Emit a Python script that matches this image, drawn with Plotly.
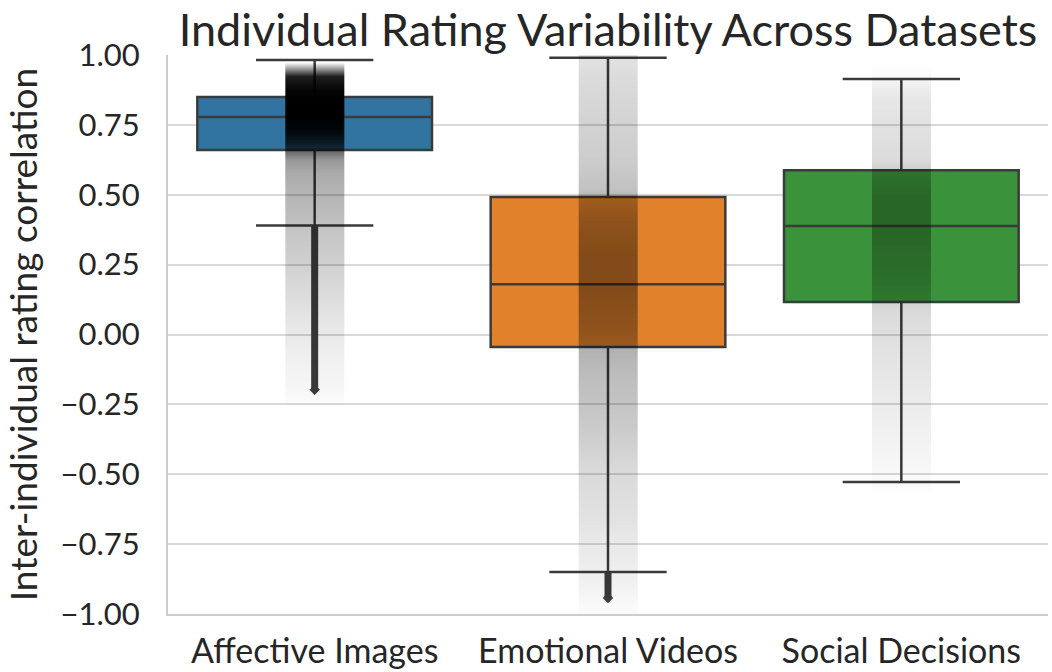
import plotly.graph_objects as go

# Summary statistics per dataset
categories = ["Affective Images", "Emotional Videos", "Social Decisions"]
box_colors = ["#3274A1", "#E1812C", "#3A923A"]
q1 = [0.66, -0.045, 0.116]
median = [0.778, 0.18, 0.388]
q3 = [0.85, 0.492, 0.588]
whisker_low = [0.39, -0.85, -0.528]
whisker_high = [0.982, 0.99, 0.914]
flier_min = [-0.21, -0.955, None]

# Density of individual correlations, 0.05-wide bins from -1 to 1 (bottom to top)
bin_edges = [round(-1 + 0.05 * i, 3) for i in range(41)]
density_affective = [
    0, 0, 0, 0, 0, 0, 0, 0, 0, 0, 0, 0, 0, 0, 0,
    0.02, 0.04, 0.05, 0.06, 0.08, 0.09, 0.11, 0.13, 0.15, 0.17,
    0.19, 0.21, 0.23, 0.26, 0.28, 0.30, 0.33, 0.40, 0.70, 0.93,
    1.0, 1.0, 0.98, 0.88, 0.0,
]
density_videos = [
    0.02, 0.04, 0.06, 0.07, 0.08, 0.09, 0.11, 0.12, 0.13, 0.14,
    0.15, 0.17, 0.19, 0.21, 0.22, 0.24, 0.25, 0.27, 0.29, 0.32,
    0.36, 0.38, 0.40, 0.42, 0.42, 0.42, 0.40, 0.38, 0.35, 0.30,
    0.24, 0.22, 0.20, 0.19, 0.18, 0.17, 0.16, 0.15, 0.14, 0.12,
]
density_social = [
    0, 0, 0, 0, 0, 0, 0, 0, 0,
    0.02, 0.03, 0.04, 0.05, 0.06, 0.07, 0.08, 0.09, 0.10, 0.11, 0.12,
    0.13, 0.14, 0.18, 0.22, 0.25, 0.27, 0.29, 0.30, 0.30, 0.30,
    0.28, 0.22, 0.14, 0.13, 0.12, 0.11, 0.10, 0.08, 0.02, 0,
]
densities = [density_affective, density_videos, density_social]

line_color = "#3b3b3b"
text_color = "#262626"
font_family = "Lato, 'Open Sans', sans-serif"
jitter_half = 0.1

fig = go.Figure()

for i, name in enumerate(categories):
    fig.add_trace(go.Box(
        x=[i], q1=[q1[i]], median=[median[i]], q3=[q3[i]],
        lowerfence=[whisker_low[i]], upperfence=[whisker_high[i]],
        width=0.8, whiskerwidth=0.5, boxpoints=False,
        fillcolor=box_colors[i], line=dict(color=line_color, width=2.5),
        name=name, showlegend=False, hoverinfo="skip",
    ))

# Overlapping outliers below the lower whisker
for i, lo in enumerate(flier_min):
    if lo is None:
        continue
    fig.add_trace(go.Scatter(
        x=[i, i], y=[whisker_low[i], lo + 0.012], mode="lines",
        line=dict(color=line_color, width=7), showlegend=False, hoverinfo="skip",
    ))
    fig.add_trace(go.Scatter(
        x=[i], y=[lo + 0.012], mode="markers",
        marker=dict(symbol="diamond", size=8, color=line_color),
        showlegend=False, hoverinfo="skip",
    ))

# Jittered observations shown as a translucent density strip over each box
for i, dens in enumerate(densities):
    fig.add_trace(go.Heatmap(
        x=[i - jitter_half, i, i + jitter_half], y=bin_edges,
        z=[[d, d] for d in dens], zmin=0, zmax=1, zsmooth="best",
        colorscale=[[0, "rgba(0,0,0,0)"], [1, "rgba(0,0,0,1)"]],
        showscale=False, hoverinfo="skip", xaxis="x", yaxis="y2",
    ))

ytick_vals = [-1.0, -0.75, -0.5, -0.25, 0.0, 0.25, 0.5, 0.75, 1.0]
ytick_text = [f"{v:.2f}".replace("-", "\u2212") for v in ytick_vals]

fig.update_layout(
    width=1052, height=672,
    margin=dict(l=168, r=4, t=55, b=58),
    paper_bgcolor="white", plot_bgcolor="white",
    font=dict(family=font_family, color=text_color),
    title=dict(
        text="Individual Rating Variability Across Datasets",
        x=0.5, xref="paper", xanchor="center",
        y=1 - 30 / 672, yref="container", yanchor="middle",
        font=dict(size=45, color=text_color),
    ),
    xaxis=dict(
        range=[-0.5, 2.5], tickvals=[0, 1, 2], ticktext=categories,
        showgrid=False, zeroline=False, showline=True, automargin=False,
        linecolor="#cccccc", linewidth=2, ticks="",
        tickfont=dict(size=34, color=text_color), ticklabelstandoff=6,
    ),
    yaxis=dict(
        range=[-1, 1], tickvals=ytick_vals, ticktext=ytick_text,
        showgrid=True, gridcolor="#d9d9d9", gridwidth=2, zeroline=False,
        showline=True, linecolor="#cccccc", linewidth=2, ticks="",
        automargin=False,
        tickfont=dict(size=31, color=text_color), ticklabelstandoff=20,
        title=dict(text="Inter-individual rating correlation",
                   font=dict(size=37, color=text_color), standoff=12),
    ),
    yaxis2=dict(range=[-1, 1], overlaying="y", visible=False),
)

fig.write_html("out.html")
